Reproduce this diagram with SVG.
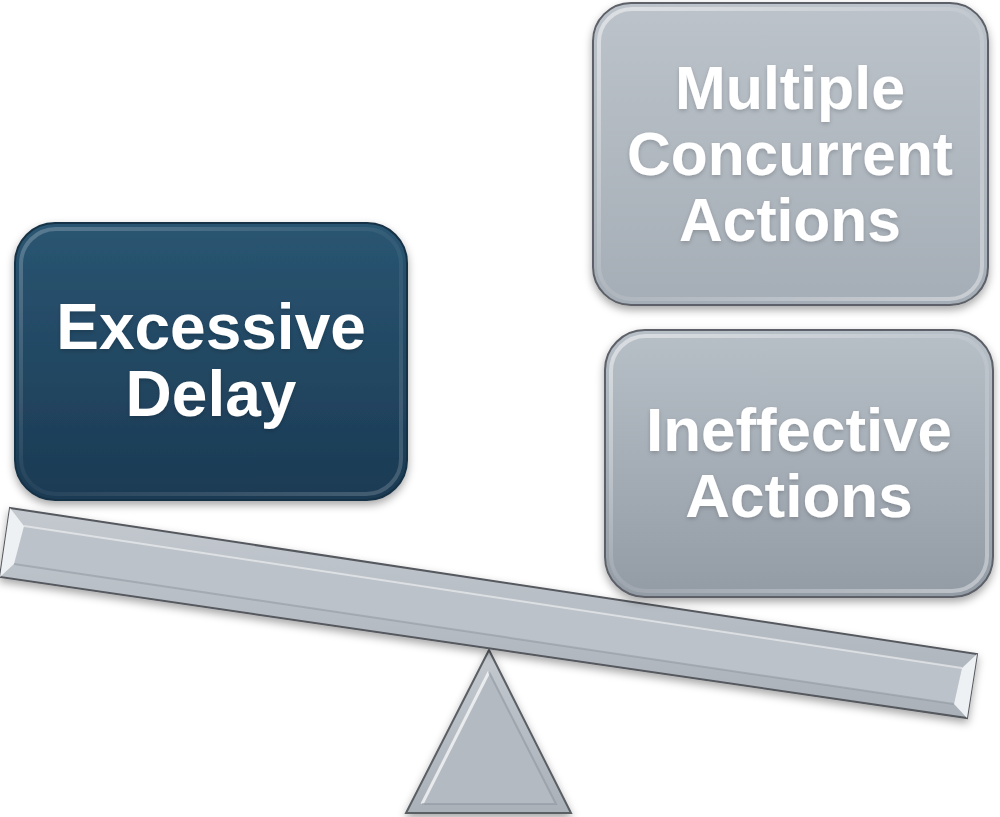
<svg xmlns="http://www.w3.org/2000/svg" width="1000" height="817" viewBox="0 0 1000 817">
  <defs>
    <linearGradient id="gDark" x1="0" y1="0" x2="0" y2="1">
      <stop offset="0" stop-color="#2a5572"/>
      <stop offset="1" stop-color="#1b3a53"/>
    </linearGradient>
    <linearGradient id="gGrey1" x1="0" y1="0" x2="0" y2="1">
      <stop offset="0" stop-color="#bcc3ca"/>
      <stop offset="1" stop-color="#a5adb6"/>
    </linearGradient>
    <linearGradient id="gGrey2" x1="0" y1="0" x2="0" y2="1">
      <stop offset="0" stop-color="#b7bfc7"/>
      <stop offset="1" stop-color="#939ba5"/>
    </linearGradient>
    <linearGradient id="gBeam" x1="0" y1="0" x2="0" y2="1">
      <stop offset="0" stop-color="#c3c9cf"/>
      <stop offset="1" stop-color="#aab1b9"/>
    </linearGradient>
    <linearGradient id="gRimLight" x1="0" y1="0" x2="1" y2="1">
      <stop offset="0" stop-color="#ffffff" stop-opacity="0.5"/>
      <stop offset="0.5" stop-color="#ffffff" stop-opacity="0.1"/>
      <stop offset="1" stop-color="#ffffff" stop-opacity="0.4"/>
    </linearGradient>
    <filter id="shadow" x="-10%" y="-10%" width="120%" height="125%">
      <feDropShadow dx="0" dy="4" stdDeviation="4" flood-color="#000" flood-opacity="0.35"/>
    </filter>
    <filter id="tshadow" x="-10%" y="-10%" width="120%" height="130%">
      <feDropShadow dx="0" dy="2" stdDeviation="2" flood-color="#000" flood-opacity="0.18"/>
    </filter>
  </defs>
  <style>
    .lbl { font-family: "Liberation Sans", Arial, sans-serif; font-weight: bold; font-size: 64px; fill: #ffffff; text-anchor: middle; }
    .sm { font-size: 62px; }
    .rim { fill: none; stroke: url(#gRimLight); stroke-width: 4; }
    .edge { stroke-width: 2; }
  </style>

  <g id="fulcrum" filter="url(#shadow)">
    <polygon points="489,650 406,813 571,813" fill="url(#gBeam)" stroke="#5a5e63" stroke-width="2"/>
    <polygon points="489,672 422,804 556,804" fill="#b3bac2" stroke="none"/>
    <polyline points="422,804 489,672" fill="none" stroke="#ffffff" stroke-opacity="0.7" stroke-width="3"/>
    <polyline points="489,672 556,804 422,804" fill="none" stroke="#8f969e" stroke-opacity="0.6" stroke-width="2"/>
  </g>

  <g id="beam" filter="url(#shadow)">
    <polygon points="10,508 977,654 967,718 0,577" fill="url(#gBeam)" stroke="#55595e" stroke-width="2"/>
    <polygon points="24,526 962,668 954,704 14,564" fill="#bcc2c9" stroke="none"/>
    <polygon points="10,508 24,526 14,564 0,577" fill="#eef1f4"/>
    <polygon points="977,654 962,668 954,704 967,718" fill="#eef1f4"/>
    <polyline points="24,526 962,668" fill="none" stroke="#ffffff" stroke-opacity="0.5" stroke-width="2"/>
    <polyline points="14,564 954,704" fill="none" stroke="#8c939b" stroke-opacity="0.5" stroke-width="2"/>
  </g>

  <g id="node-excessive-delay">
    <rect x="15" y="223" width="392" height="277" rx="40" fill="url(#gDark)" stroke="#183246" class="edge" filter="url(#shadow)"/>
    <rect x="21" y="229" width="380" height="265" rx="35" class="rim" stroke-opacity="0.45"/>
    <text class="lbl" filter="url(#tshadow)"><tspan x="211" y="349">Excessive</tspan><tspan x="211" y="416">Delay</tspan></text>
  </g>

  <g id="node-multiple-concurrent">
    <rect x="593" y="3" width="395" height="302" rx="38" fill="url(#gGrey1)" stroke="#5d6167" class="edge" filter="url(#shadow)"/>
    <rect x="599" y="9" width="383" height="290" rx="33" class="rim"/>
    <text class="lbl sm" filter="url(#tshadow)"><tspan x="790" y="109" textLength="230" lengthAdjust="spacingAndGlyphs">Multiple</tspan><tspan x="790" y="175" textLength="326" lengthAdjust="spacingAndGlyphs">Concurrent</tspan><tspan x="790" y="241" textLength="222" lengthAdjust="spacingAndGlyphs">Actions</tspan></text>
  </g>

  <g id="node-ineffective">
    <rect x="605" y="330" width="388" height="267" rx="40" fill="url(#gGrey2)" stroke="#5d6167" class="edge" filter="url(#shadow)"/>
    <rect x="611" y="336" width="376" height="255" rx="35" class="rim"/>
    <text class="lbl sm" filter="url(#tshadow)"><tspan x="799" y="451" textLength="306" lengthAdjust="spacingAndGlyphs">Ineffective</tspan><tspan x="799" y="517">Actions</tspan></text>
  </g>
</svg>
